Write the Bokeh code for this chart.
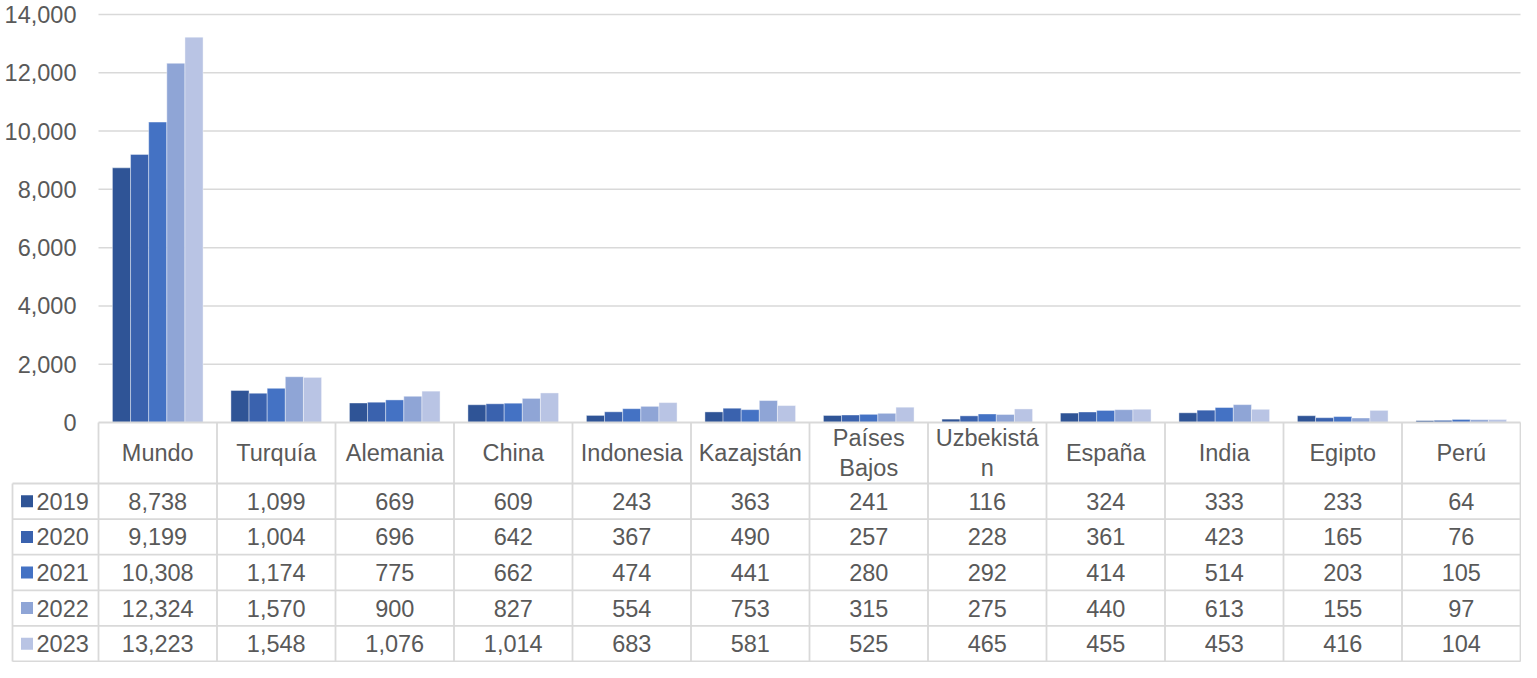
from bokeh.plotting import figure
from bokeh.models import Range1d
from bokeh.core.properties import value
from bokeh.embed import file_html
from bokeh.resources import INLINE

categories = ["Mundo", "Turquía", "Alemania", "China", "Indonesia", "Kazajstán",
              "Países Bajos", "Uzbekistán", "España", "India", "Egipto", "Perú"]
header_labels = ["Mundo", "Turquía", "Alemania", "China", "Indonesia", "Kazajstán",
                 "Países\nBajos", "Uzbekistá\nn", "España", "India", "Egipto", "Perú"]
years = ["2019", "2020", "2021", "2022", "2023"]
v2019 = [8738, 1099, 669, 609, 243, 363, 241, 116, 324, 333, 233, 64]
v2020 = [9199, 1004, 696, 642, 367, 490, 257, 228, 361, 423, 165, 76]
v2021 = [10308, 1174, 775, 662, 474, 441, 280, 292, 414, 514, 203, 105]
v2022 = [12324, 1570, 900, 827, 554, 753, 315, 275, 440, 613, 155, 97]
v2023 = [13223, 1548, 1076, 1014, 683, 581, 525, 465, 455, 453, 416, 104]
series = [v2019, v2020, v2021, v2022, v2023]
y_ticks = [0, 2000, 4000, 6000, 8000, 10000, 12000, 14000]
colors = ["#2F5496", "#3A62AE", "#4472C4", "#8FA5D6", "#B9C4E4"]

# ---- layout (pixels inside the figure) ----
W, H = 1521, 662
left_px = 98.0          # where the plot area / table columns start
right_px = 1520.0
col_px = (right_px - left_px) / len(categories)
leg_px = 12.0           # left edge of legend column
zero_px = 422.0         # y=0 baseline
top_px = 14.0           # y=14000
ymax = y_ticks[-1]
ppv = (zero_px - top_px) / ymax
header_bottom = 483.0
table_bottom = 661.0
row_h = (table_bottom - header_bottom) / len(years)

FONT = value("Liberation Sans")
FSIZE = "23.5px"
TCOL = "#595959"
LCOL = "#D9D9D9"

x_start = -left_px / col_px
x_end = (W - left_px) / col_px
y_end = ymax + top_px / ppv
y_start = -(H - zero_px) / ppv
x_leg = (leg_px - left_px) / col_px
n = len(categories)

p = figure(width=W, height=H, output_backend="svg", toolbar_location=None,
           x_range=Range1d(x_start, x_end), y_range=Range1d(y_start, y_end),
           min_border=0, min_border_left=0, min_border_right=0,
           min_border_top=0, min_border_bottom=0)
p.extra_y_ranges = {"px": Range1d(start=H, end=0)}
p.axis.visible = False
p.grid.visible = False
p.outline_line_color = None
p.background_fill_color = "white"
p.border_fill_color = "white"

# gridlines
gy = [t for t in y_ticks if t > 0]
p.segment(x0=[0] * len(gy), x1=[n] * len(gy), y0=gy, y1=gy,
          line_color=LCOL, line_width=1.5)

# y tick labels
p.text(x=[(76 - left_px) / col_px] * len(y_ticks), y=y_ticks,
       text=[f"{t:,}" for t in y_ticks], text_align="right", text_baseline="middle",
       text_font=FONT, text_font_size=FSIZE, text_color=TCOL)

# bars
bw = 0.153
for k, (vals, c) in enumerate(zip(series, colors)):
    xs = [i + 0.5 + (k - 2) * bw for i in range(n)]
    p.vbar(x=xs, top=vals, bottom=0, width=bw, fill_color=c,
           line_color="white", line_alpha=0.5, line_width=0.8)

# table lines
hy = [zero_px] + [header_bottom + r * row_h for r in range(len(years) + 1)]
hx0 = [0] + [x_leg] * (len(years) + 1)
p.segment(x0=hx0, x1=[n] * len(hy), y0=hy, y1=hy, line_color=LCOL,
          line_width=1.8, y_range_name="px")
vx = list(range(n + 1))
p.segment(x0=vx, x1=vx, y0=[zero_px] * len(vx), y1=[table_bottom] * len(vx),
          line_color=LCOL, line_width=1.8, y_range_name="px")
p.segment(x0=[x_leg], x1=[x_leg], y0=[header_bottom], y1=[table_bottom],
          line_color=LCOL, line_width=1.8, y_range_name="px")

# header labels
p.text(x=[i + 0.5 for i in range(n)], y=[(zero_px + header_bottom) / 2] * n,
       text=header_labels, text_align="center", text_baseline="middle",
       text_font=FONT, text_font_size=FSIZE, text_color=TCOL,
       text_line_height=1.15, y_range_name="px")

# data rows
for k, (yr, vals, c) in enumerate(zip(years, series, colors)):
    yc = header_bottom + (k + 0.5) * row_h
    p.text(x=[i + 0.5 for i in range(n)], y=[yc] * n, text=[f"{v:,}" for v in vals],
           text_align="center", text_baseline="middle", text_font=FONT,
           text_font_size=FSIZE, text_color=TCOL, y_range_name="px")
    p.scatter(x=[(26.5 - left_px) / col_px], y=[yc], marker="square", size=12,
              fill_color=c, line_color=None, y_range_name="px")
    p.text(x=[(36 - left_px) / col_px], y=[yc], text=[yr], text_align="left",
           text_baseline="middle", text_font=FONT, text_font_size=FSIZE,
           text_color=TCOL, y_range_name="px")

open("out.html", "w").write(file_html(p, INLINE))
